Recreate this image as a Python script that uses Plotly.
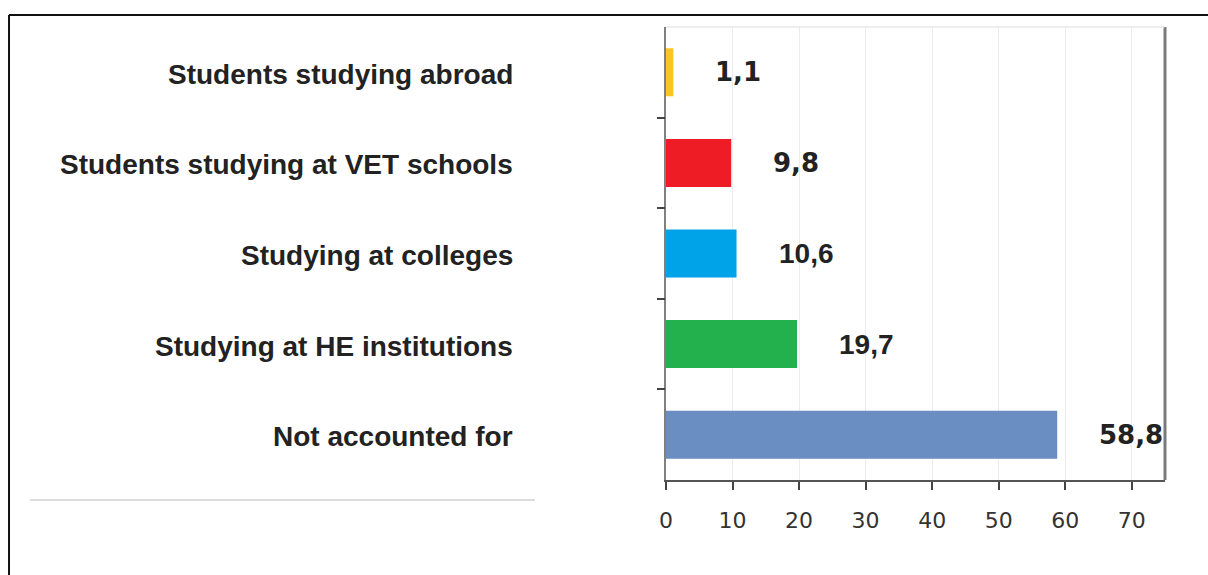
import plotly.graph_objects as go

categories = ["Students studying abroad", "Students studying at VET schools",
              "Studying at colleges", "Studying at HE institutions", "Not accounted for"]
values = [1.1, 9.8, 10.6, 19.7, 58.8]
value_labels = ["1,1", "9,8", "10,6", "19,7", "58,8"]
x_ticks = [0, 10, 20, 30, 40, 50, 60, 70]
y_boundaries = [0.5, 1.5, 2.5, 3.5]

colors = ["#F7C623", "#EE1C25", "#00A2E8", "#22B14C", "#6A8EC2"]
label_fonts = ["DejaVu Sans", "DejaVu Sans", "Liberation Sans", "Liberation Sans", "DejaVu Sans"]

fig = go.Figure()
fig.add_trace(go.Bar(
    x=values, y=categories, orientation="h",
    marker=dict(color=colors, line=dict(width=0)),
    width=0.53, hoverinfo="skip",
))
# invisible helper trace so the boundary-tick axis is drawn
fig.add_trace(go.Scatter(
    x=[0] * len(y_boundaries), y=y_boundaries, yaxis="y2", mode="markers",
    marker=dict(opacity=0, size=1), hoverinfo="skip", showlegend=False,
))

annotations = []
for cat, v, lab, fam in zip(categories, values, value_labels, label_fonts):
    annotations.append(dict(
        x=v, y=cat, xref="x", yref="y", text="<b>%s</b>" % lab, showarrow=False,
        xanchor="left", yanchor="middle", xshift=40,
        font=dict(family=fam, size=26 if fam == "DejaVu Sans" else 28, color="#222222"),
    ))
    annotations.append(dict(
        x=-0.3026, y=cat, xref="paper", yref="y", text="<b>%s</b>" % cat, showarrow=False,
        xanchor="right", yanchor="middle", yshift=-2,
        font=dict(family="Liberation Sans", size=28, color="#222222"),
    ))

shapes = [
    dict(type="line", xref="paper", yref="paper", x0=1, x1=1, y0=0, y1=1,
         line=dict(color="#7a7a7a", width=3)),
    dict(type="line", xref="paper", yref="paper", x0=0, x1=1, y0=1, y1=1,
         line=dict(color="#dddddd", width=1)),
    dict(type="line", xref="paper", yref="paper", x0=-1.2745, x1=-0.2625, y0=-0.044, y1=-0.044,
         line=dict(color="#dcdcdc", width=2)),
    dict(type="line", xref="paper", yref="paper", x0=-1.3166, x1=-1.3166, y0=-0.3, y1=1.0265,
         line=dict(color="#111111", width=2)),
    dict(type="line", xref="paper", yref="paper", x0=-1.3166, x1=1.2, y0=1.0265, y1=1.0265,
         line=dict(color="#111111", width=2)),
]

fig.update_layout(
    width=1208, height=575,
    margin=dict(l=666, r=43, t=27, b=95, pad=0),
    paper_bgcolor="white", plot_bgcolor="white",
    showlegend=False,
    annotations=annotations,
    shapes=shapes,
    xaxis=dict(
        range=[0, 75], tickvals=x_ticks, ticktext=[str(t) for t in x_ticks],
        showgrid=True, gridcolor="#ececec", gridwidth=1,
        showline=True, linecolor="#555555", linewidth=2,
        ticks="outside", ticklen=8, tickwidth=2, tickcolor="#444444",
        tickfont=dict(family="DejaVu Sans", size=22, color="#333333"),
        ticklabelstandoff=12, zeroline=False,
    ),
    yaxis=dict(
        categoryorder="array", categoryarray=categories,
        range=[4.5, -0.5], showticklabels=False,
        showline=True, linecolor="#808080", linewidth=2,
        ticks="", showgrid=False, zeroline=False,
    ),
    yaxis2=dict(
        overlaying="y", side="left", type="linear", range=[4.5, -0.5],
        tickvals=y_boundaries, showticklabels=False,
        ticks="outside", ticklen=8, tickwidth=2, tickcolor="#444444",
        showline=False, showgrid=False, zeroline=False,
    ),
)

fig.write_html("out.html")
